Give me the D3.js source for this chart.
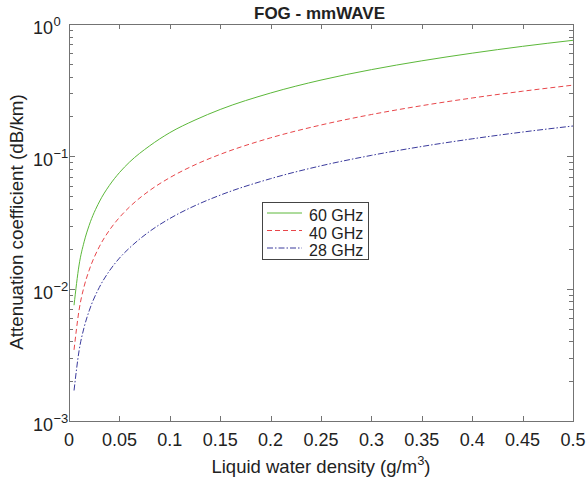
<!DOCTYPE html>
<html>
<head>
<meta charset="utf-8">
<script src="https://cdn.jsdelivr.net/npm/d3@7"></script>
<style>
  html, body { margin: 0; padding: 0; background: #fff; }
  text { font-family: "Liberation Sans", Arial, sans-serif; fill: #222; }
</style>
</head>
<body>
<svg id="chart" width="588" height="484"></svg>
<script>
// Liquid water density samples (g/m^3)
const density = [0.005, 0.01, 0.015, 0.02, 0.03, 0.04, 0.05, 0.06, 0.08, 0.1, 0.125, 0.15, 0.2, 0.25, 0.3, 0.35, 0.4, 0.45, 0.5];
// Specific attenuation (dB/km) for each carrier frequency
const att60 = [0.0075, 0.0151, 0.0226, 0.0301, 0.0452, 0.0602, 0.0753, 0.0904, 0.120, 0.151, 0.188, 0.226, 0.301, 0.377, 0.452, 0.527, 0.602, 0.678, 0.753];
const att40 = [0.00345, 0.0069, 0.0104, 0.0138, 0.0207, 0.0276, 0.0345, 0.0414, 0.0552, 0.069, 0.0863, 0.1035, 0.138, 0.1725, 0.207, 0.2415, 0.276, 0.3105, 0.345];
const att28 = [0.0017, 0.0034, 0.0051, 0.0068, 0.0102, 0.0136, 0.017, 0.0203, 0.0271, 0.0339, 0.0424, 0.0509, 0.0678, 0.0848, 0.1017, 0.1187, 0.1356, 0.1526, 0.1695];
const seriesNames = ["60 GHz", "40 GHz", "28 GHz"];
const xTicks = [0, 0.05, 0.1, 0.15, 0.2, 0.25, 0.3, 0.35, 0.4, 0.45, 0.5];
const xTickLabels = ["0", "0.05", "0.1", "0.15", "0.2", "0.25", "0.3", "0.35", "0.4", "0.45", "0.5"];
const yExponents = [0, -1, -2, -3];

const svg = d3.select("#chart");
const L = 69, R = 573, T = 24, B = 421;
const axisColor = "#737373";

const x = d3.scaleLinear().domain([0, 0.5]).range([L, R]);
const y = d3.scaleLog().domain([1e-3, 1]).range([B, T]);

// axes box
svg.append("rect").attr("x", L + 0.5).attr("y", T + 0.5).attr("width", R - L).attr("height", B - T)
  .attr("fill", "#fff").attr("stroke", axisColor).attr("stroke-width", 1);

const tickLen = 5;
const ticks = svg.append("g").attr("stroke", axisColor).attr("stroke-width", 1);
xTicks.forEach(v => {
  const px = Math.round(x(v)) + 0.5;
  ticks.append("line").attr("x1", px).attr("x2", px).attr("y1", B).attr("y2", B - tickLen);
  ticks.append("line").attr("x1", px).attr("x2", px).attr("y1", T).attr("y2", T + tickLen);
});
// log ticks, major and minor
for (let e = -3; e <= 0; e++) {
  for (let m = 1; m <= 9; m++) {
    const v = m * Math.pow(10, e);
    if (v > 1) break;
    const py = Math.round(y(v)) + 0.5;
    const len = m === 1 ? tickLen + 1 : tickLen - 1;
    ticks.append("line").attr("x1", L).attr("x2", L + len).attr("y1", py).attr("y2", py);
    ticks.append("line").attr("x1", R).attr("x2", R - len).attr("y1", py).attr("y2", py);
  }
}

// x tick labels
svg.append("g").selectAll("text").data(xTicks).join("text")
  .attr("x", d => x(d)).attr("y", B + 24.5)
  .attr("text-anchor", "middle").attr("font-size", 18)
  .text((d, i) => xTickLabels[i]);

// y tick labels as powers of ten
const yl = svg.append("g");
yExponents.forEach(e => {
  const py = y(Math.pow(10, e)) + 10;
  yl.append("text").attr("x", 53).attr("y", py)
    .attr("text-anchor", "end").attr("font-size", 18).text("10");
  yl.append("text").attr("x", 53.5).attr("y", py - 8)
    .attr("text-anchor", "start").attr("font-size", 13)
    .text(e === 0 ? "0" : "\u2212" + (-e));
});

// axis titles
const xl = svg.append("text").attr("x", 321).attr("y", 473)
  .attr("text-anchor", "middle").attr("font-size", 18.5);
xl.append("tspan").text("Liquid water density (g/m");
xl.append("tspan").attr("dy", -8).attr("font-size", 13).text("3");
xl.append("tspan").attr("dy", 8).text(")");

svg.append("text").attr("transform", `translate(23,222) rotate(-90)`)
  .attr("text-anchor", "middle").attr("font-size", 18.8)
  .text("Attenuation coefficient (dB/km)");

svg.append("text").attr("x", 319.5).attr("y", 18.5)
  .attr("text-anchor", "middle").attr("font-size", 17).attr("font-weight", "bold")
  .text("FOG - mmWAVE");

// curves
const styles = [
  { data: att60, color: "#5cb83a", dash: null },
  { data: att40, color: "#e8464a", dash: "5,3" },
  { data: att28, color: "#3a3a9c", dash: "6,2,1.5,2" }
];
const line = d3.line().x(d => x(d[0])).y(d => y(d[1])).curve(d3.curveMonotoneX);
const plot = svg.append("g");
styles.forEach(s => {
  plot.append("path").datum(density.map((d, i) => [d, s.data[i]]))
    .attr("d", line).attr("fill", "none").attr("stroke", s.color)
    .attr("stroke-width", 1).attr("stroke-dasharray", s.dash);
});

// legend
const lg = svg.append("g");
lg.append("rect").attr("x", 262.5).attr("y", 202.5).attr("width", 106).attr("height", 57)
  .attr("fill", "#fff").attr("stroke", "#444").attr("stroke-width", 1);
styles.forEach((s, i) => {
  const ly = 213 + i * 17.5;
  lg.append("line").attr("x1", 267).attr("x2", 302).attr("y1", ly).attr("y2", ly)
    .attr("stroke", s.color).attr("stroke-width", 1).attr("stroke-dasharray", s.dash);
  lg.append("text").attr("x", 309).attr("y", ly + 8).attr("font-size", 16)
    .text(seriesNames[i]);
});
</script>
</body>
</html>
